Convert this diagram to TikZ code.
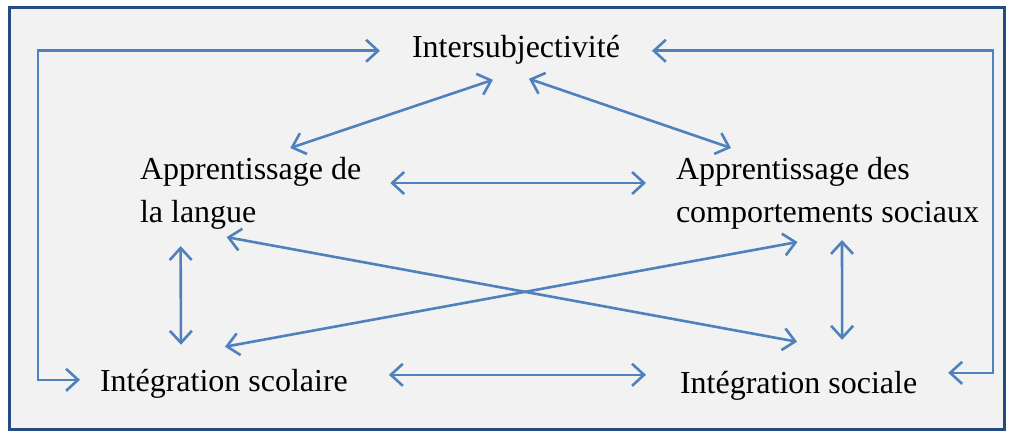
\documentclass[tikz,border=0pt]{standalone}
\usepackage{fontspec}
\setmainfont{Liberation Serif}
\usepackage{xcolor}
\usetikzlibrary{arrows.meta,calc}

\definecolor{linkblue}{HTML}{4F81BD}
\definecolor{frameblue}{HTML}{244C7E}
\definecolor{panel}{HTML}{F2F2F2}

\begin{document}
\begin{tikzpicture}[
    x=0.5pt, y=-0.5pt,
    concept/.style={inner sep=0pt, outer sep=0pt, align=left, font=\fontsize{16}{21.5}\selectfont},
    link/.style={{Straight Barb[length=6pt,width=11pt]}-{Straight Barb[length=6pt,width=11pt]}, line width=1.3pt, color=linkblue}
]

% Frame
\useasboundingbox (0,0) rectangle (1013,433);
\fill[white] (0,0) rectangle (1013,433);
\draw[frameblue, line width=1.5pt, fill=panel] (9,8) rectangle (1004,429);

% Concepts
\node[concept, anchor=base west] (inter) at (412,58) {Intersubjectivité};
\node[concept, anchor=north west] (langue) at (140,157) {Apprentissage de\\la langue};
\node[concept, anchor=north west] (comport) at (676,157) {Apprentissage des\\comportements sociaux};
\node[concept, anchor=base west] (scol) at (100,391) {Intégration scolaire};
\node[concept, anchor=base west] (sociale) at (680,393) {Intégration sociale};

% Outer loops
\draw[link] ($(scol.west)+(-20,-3.5)$) -- ++(-42,0) |- ($(inter.west)+(-32,0.5)$);
\draw[link] ($(inter.east)+(32,0.5)$) -- ++(341,0) |- ($(sociale.east)+(31,-12.5)$);

% Top links
\draw[link] ($(langue.north east)+(-71,-9)$) -- ($(inter.south)+(-23,15)$);
\draw[link] ($(inter.south)+(13,14)$) -- ($(comport.north west)+(55,-9)$);

% Horizontal links
\draw[link] ($(langue.north east)+(29,26)$) -- ($(comport.north west)+(-30,26)$);
\draw[link] ($(scol.east)+(41,-8.5)$) -- ($(sociale.west)+(-34,-10.5)$);

% Vertical links
\draw[link] ($(langue.south)+(-70,17)$) -- ($(scol.north)+(-43,-24)$);
\draw[link] ($(comport.south)+(14.5,11)$) -- ($(sociale.north)+(43.5,-31)$);

% Cross links
\draw[link] ($(langue.south)+(-24,8)$) -- ($(sociale.north)+(-1.5,-29)$);
\draw[link] ($(scol.north)+(1,-22)$) -- ($(comport.south)+(-30,13)$);

\end{tikzpicture}
\end{document}
